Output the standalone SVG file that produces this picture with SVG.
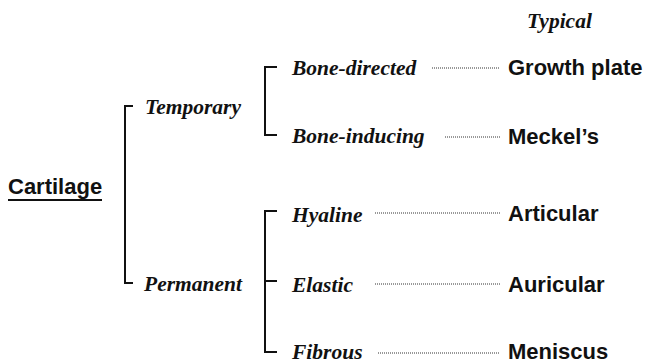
<svg xmlns="http://www.w3.org/2000/svg" width="646" height="364" viewBox="0 0 646 364">
<style>
.it{font-family:"Liberation Serif","Times New Roman",serif;font-style:italic;font-weight:bold;font-size:21.5px;fill:#111}
.sb{font-family:"Liberation Sans",Arial,sans-serif;font-weight:bold;font-size:22px;fill:#111}
.br{fill:none;stroke:#111;stroke-width:2}
.dot{stroke:#333;stroke-width:1;stroke-dasharray:1 1}
</style>
<rect width="646" height="364" fill="#fff"/>
<g id="connectors">
<path class="br" d="M133,106 H125 V283 H133"/>
<path class="br" d="M277,67 H265 V135 H277"/>
<path class="br" d="M277,211 H265 V352 H277 M265,281 H277"/>
<line class="dot" x1="432" y1="68" x2="500" y2="68"/>
<line class="dot" x1="445" y1="137" x2="500" y2="137"/>
<line class="dot" x1="375" y1="213" x2="500" y2="213"/>
<line class="dot" x1="375" y1="284" x2="500" y2="284"/>
<line class="dot" x1="378" y1="353" x2="500" y2="353"/>
</g>
<g id="cartilage"><text class="sb" x="8" y="194">Cartilage</text><line x1="8" y1="200" x2="102" y2="200" stroke="#111" stroke-width="2"/></g>
<g id="temporary"><text class="it" x="145" y="114">Temporary</text></g>
<g id="permanent"><text class="it" x="144" y="291">Permanent</text></g>
<g id="bone-directed"><text class="it" x="292" y="75">Bone-directed</text></g>
<g id="bone-inducing"><text class="it" x="292" y="143">Bone-inducing</text></g>
<g id="hyaline"><text class="it" x="292" y="222">Hyaline</text></g>
<g id="elastic"><text class="it" x="292" y="292">Elastic</text></g>
<g id="fibrous"><text class="it" x="292" y="359">Fibrous</text></g>
<g id="typical"><text class="it" x="527" y="28">Typical</text></g>
<g id="growth-plate"><text class="sb" x="508" y="75">Growth plate</text></g>
<g id="meckels"><text class="sb" x="508" y="144">Meckel’s</text></g>
<g id="articular"><text class="sb" x="508" y="221">Articular</text></g>
<g id="auricular"><text class="sb" x="508" y="292">Auricular</text></g>
<g id="meniscus"><text class="sb" x="508" y="359">Meniscus</text></g>
</svg>
